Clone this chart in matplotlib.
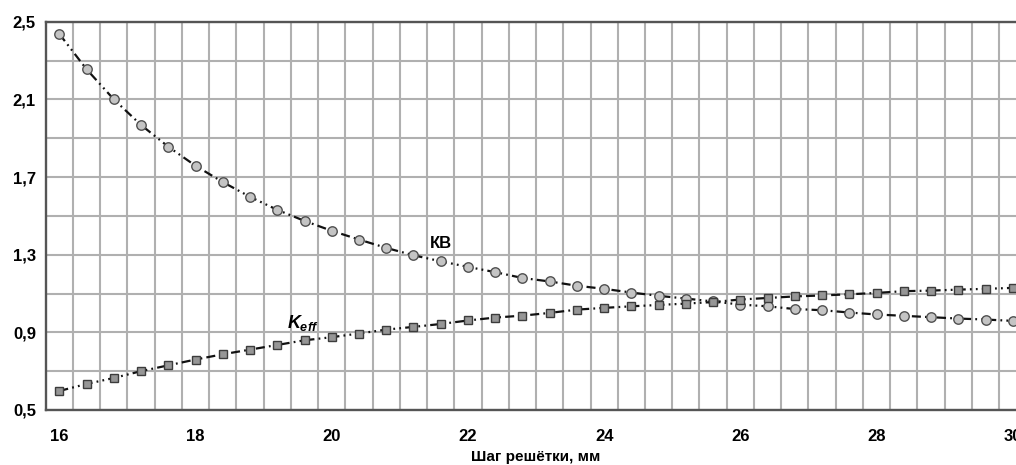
import numpy as np
import matplotlib
matplotlib.use("Agg")
import matplotlib.pyplot as plt

# шаг решётки, мм
step = [16.0, 16.4, 16.8, 17.2, 17.6, 18.0, 18.4, 18.8, 19.2, 19.6,
        20.0, 20.4, 20.8, 21.2, 21.6, 22.0, 22.4, 22.8, 23.2, 23.6,
        24.0, 24.4, 24.8, 25.2, 25.6, 26.0, 26.4, 26.8, 27.2, 27.6,
        28.0, 28.4, 28.8, 29.2, 29.6, 30.0]

kb = [2.437, 2.255, 2.100, 1.968, 1.856, 1.758, 1.674, 1.598, 1.531, 1.474,
      1.423, 1.378, 1.335, 1.297, 1.266, 1.237, 1.210, 1.180, 1.162, 1.140,
      1.124, 1.105, 1.088, 1.074, 1.059, 1.043, 1.034, 1.020, 1.014, 1.002,
      0.992, 0.985, 0.978, 0.971, 0.966, 0.959]

keff = [0.598, 0.634, 0.665, 0.700, 0.730, 0.760, 0.787, 0.811, 0.835, 0.859,
        0.875, 0.894, 0.914, 0.928, 0.943, 0.961, 0.976, 0.986, 1.000, 1.017,
        1.026, 1.034, 1.041, 1.048, 1.056, 1.069, 1.077, 1.085, 1.090, 1.096,
        1.103, 1.112, 1.115, 1.120, 1.124, 1.129]

x_ticks = [16, 18, 20, 22, 24, 26, 28, 30]
y_ticks = [0.5, 0.9, 1.3, 1.7, 2.1, 2.5]

plt.rcParams['font.family'] = ['Liberation Sans', 'DejaVu Sans']
plt.rcParams['font.weight'] = 'bold'
plt.rcParams['mathtext.fontset'] = 'custom'
plt.rcParams['mathtext.it'] = 'Liberation Sans:italic:bold'
plt.rcParams['mathtext.rm'] = 'Liberation Sans:bold'
plt.rcParams['lines.scale_dashes'] = False

fig = plt.figure(figsize=(10.16, 4.65), dpi=100)
ax = fig.add_axes([0.045, 0.1183, 0.9652, 0.835])

# штрих-пунктир с двумя точками
dash = (0, (6.5, 3, 1.3, 3, 1.3, 3))
ax.plot(step, kb, color='#111111', lw=1.6, linestyle=dash, marker='o', ms=6.8,
        mfc='#c4c4c4', mec='#505050', mew=1.0, zorder=3)
ax.plot(step, keff, color='#111111', lw=1.6, linestyle=dash, marker='s', ms=6.2,
        mfc='#969696', mec='#3c3c3c', mew=1.0, zorder=3)

ax.set_xlim(15.8, 30.2)
ax.set_ylim(0.5, 2.5)

ax.set_xticks(x_ticks)
ax.set_xticklabels([str(v) for v in x_ticks])
ax.set_xticks(np.arange(16.2, 30.2, 0.4), minor=True)
ax.set_yticks(y_ticks)
ax.set_yticklabels([f"{v:.1f}".replace('.', ',') for v in y_ticks])
ax.set_yticks(np.arange(0.7, 2.4, 0.4), minor=True)

ax.grid(False)
ax.grid(which='minor', axis='x', color='#b0b0b0', lw=1.5)
ax.grid(which='both', axis='y', color='#b0b0b0', lw=1.5)
ax.set_axisbelow(True)

ax.tick_params(which='both', length=0)
ax.tick_params(axis='x', labelsize=12, pad=14)
ax.tick_params(axis='y', labelsize=12, pad=7)

for side in ['left', 'bottom', 'top']:
    ax.spines[side].set_color('#555555')
    ax.spines[side].set_linewidth(1.7)
ax.spines['right'].set_visible(False)

ax.set_xlabel('Шаг решётки, мм', fontsize=11, fontweight='bold', labelpad=4)

ax.text(21.6, 1.356, 'КВ', fontsize=12, fontweight='bold', ha='center', va='center')
ax.text(19.34, 0.921, r'$K_{eff}$', fontsize=13, ha='left', va='baseline')

fig.savefig('out.png', dpi=100)
